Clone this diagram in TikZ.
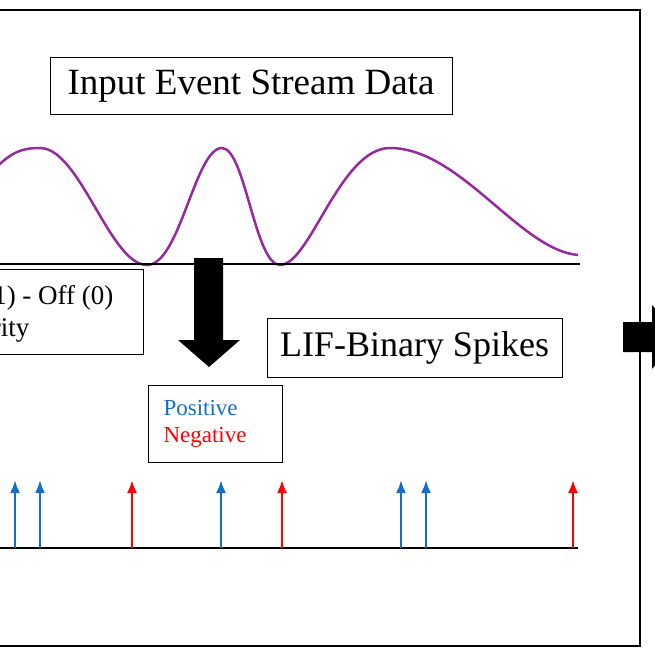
\documentclass[tikz,border=0pt]{standalone}
\usepackage{fontspec}
\setmainfont{Liberation Serif}
\usetikzlibrary{arrows.meta}
\begin{document}
\begin{tikzpicture}[x=1pt,y=-1pt,
  box/.style={draw,line width=1pt},
  spk/.style={line width=2.2pt,-{Latex[length=13pt,width=10pt]}},
  posspk/.style={spk,draw={rgb,255:red,20;green,110;blue,200}},
  negspk/.style={spk,draw=red}]
\useasboundingbox (0,0) rectangle (655,655);
\clip (0,0) rectangle (655,655);
\draw[line width=2pt] (-10,10) -- (640,10) -- (640,646) -- (-10,646);
\node[box,minimum width=402pt,minimum height=57pt,font=\fontsize{37}{40}\selectfont] (title) at (251,86.5) {Input Event Stream Data};
\draw[line width=2.5pt,draw={rgb,255:red,150;green,40;blue,160}]
 (-10,175) .. controls (10,150) and (25,148) .. (40,148)
 .. controls (80,148) and (110,265) .. (147,265)
 .. controls (180,265) and (195,148) .. (222,148)
 .. controls (245,148) and (255,265) .. (280,265)
 .. controls (310,265) and (340,148) .. (390,148)
 .. controls (460,148) and (520,250) .. (578,255);
\coordinate (b0) at (0,264); \coordinate (b1) at (580,264);
\draw[line width=2.5pt] (b0) -- (b1);
\node[box,minimum width=150pt,minimum height=85pt] (lbox) at (68,312) {};
\node[anchor=east,font=\fontsize{27}{30}\selectfont] (l1) at (117,298) {On (1) - Off (0)};
\node[anchor=east,font=\fontsize{27}{30}\selectfont] (l2) at (33,330) {Polarity};
\fill[black] (194,258) -- (223,258) -- (223,340) -- (240,340) -- (209,367) -- (178,340) -- (194,340) -- cycle;
\node[box,minimum width=295pt,minimum height=59pt,font=\fontsize{36}{39}\selectfont] (lif) at (414.5,347.5) {LIF-Binary Spikes};
\node[box,minimum width=134pt,minimum height=77pt] (leg) at (215,423.5) {};
\node[anchor=west,font=\fontsize{23}{25}\selectfont,text={rgb,255:red,20;green,110;blue,200}] (p) at (160,408) {Positive};
\node[anchor=west,font=\fontsize{23}{25}\selectfont,text=red] (n) at (160,437) {Negative};
\fill[black] (623,322) -- (652,322) -- (652,305) -- (680,337) -- (652,369) -- (652,352) -- (623,352) -- cycle;
\coordinate (s0) at (0,548); \coordinate (s1) at (578,548);
\draw[line width=2.5pt] (s0) -- (s1);
\foreach \x in {15,40,221,401,426} \draw[posspk] (\x,548) -- (\x,480);
\foreach \x in {132,282,573} \draw[negspk] (\x,548) -- (\x,480);
\end{tikzpicture}
\end{document}
